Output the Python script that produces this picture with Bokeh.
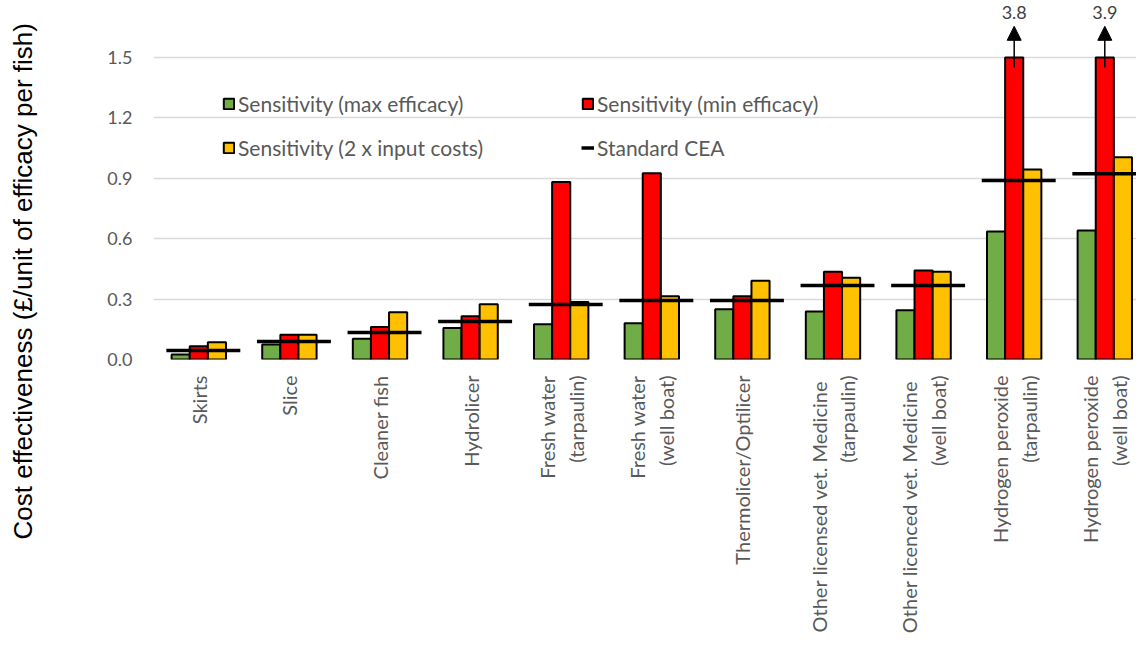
import numpy as np
from bokeh.plotting import figure
from bokeh.models import (Range1d, FixedTicker, NumeralTickFormatter, Legend, LegendItem,
                          Arrow, NormalHead, Title)
from bokeh.core.properties import value
from bokeh.embed import file_html
from bokeh.resources import INLINE

categories = [
    "Skirts", "Slice", "Cleaner fish", "Hydrolicer",
    "Fresh water\n(tarpaulin)", "Fresh water\n(well boat)",
    "Thermolicer/Optilicer",
    "Other licensed vet.  Medicine\n(tarpaulin)",
    "Other licenced vet.  Medicine\n(well boat)",
    "Hydrogen peroxide\n(tarpaulin)", "Hydrogen peroxide\n(well boat)",
]
max_efficacy = [0.025, 0.075, 0.103, 0.156, 0.175, 0.180, 0.250, 0.238, 0.245, 0.636, 0.641]
min_efficacy = [0.066, 0.123, 0.162, 0.215, 0.881, 0.925, 0.314, 0.436, 0.442, 3.8, 3.9]
double_costs = [0.086, 0.123, 0.235, 0.275, 0.285, 0.314, 0.391, 0.406, 0.436, 0.944, 1.005]
standard_cea = [0.045, 0.089, 0.134, 0.189, 0.273, 0.293, 0.293, 0.368, 0.368, 0.889, 0.922]
y_ticks = [0.0, 0.3, 0.6, 0.9, 1.2, 1.5]
axis_max = 1.5
y_title = "Cost effectiveness (£/unit of efficacy per fish)"

GREEN, RED, YELLOW = "#70AD47", "#FF0000", "#FFC000"
GREY_TXT = "#595959"
FONT = "Lato"

W, H = 1136, 649
Y_TOP = 1.7831

xc = np.arange(len(categories)) + 0.5

p = figure(width=W, height=H, output_backend="svg", toolbar_location=None,
           x_range=Range1d(0, 10.85), y_range=Range1d(0, Y_TOP),
           min_border_left=153, min_border_right=0, min_border_top=0,
           min_border_bottom=H - 359)
p.outline_line_color = None

bw = 0.2
g = p.vbar(x=xc - bw, top=max_efficacy, bottom=0, width=bw, fill_color=GREEN,
           line_color="black", line_width=2)
r = p.vbar(x=xc, top=np.minimum(min_efficacy, axis_max), bottom=0, width=bw, fill_color=RED,
           line_color="black", line_width=2)
yb = p.vbar(x=xc + bw, top=double_costs, bottom=0, width=bw, fill_color=YELLOW,
            line_color="black", line_width=2)
c = p.segment(x0=xc - 0.358, x1=xc + 0.458, y0=standard_cea, y1=standard_cea,
              line_color="black", line_width=3.5)

# arrows for bars that run off the axis
over = [i for i, v in enumerate(min_efficacy) if v > axis_max]
for i in over:
    p.add_layout(Arrow(end=NormalHead(size=14, fill_color="black", line_color="black"),
                       x_start=xc[i], y_start=axis_max - 0.05, x_end=xc[i], y_end=axis_max + 0.155,
                       line_width=1.5, line_color="black"))
p.text(x=[xc[i] for i in over], y=[Y_TOP - 0.025 for i in over],
       text=[f"{min_efficacy[i]:.1f}" for i in over], text_align="center",
       text_baseline="top", text_font=value(FONT), text_font_size="18px",
       text_color="#404040")

# axes
p.xaxis.ticker = FixedTicker(ticks=list(xc))
p.xaxis.major_label_overrides = {float(v): lab for v, lab in zip(xc, categories)}
p.xaxis.major_label_orientation = np.pi / 2
p.xaxis.major_label_text_font = FONT
p.xaxis.major_label_text_font_size = "20px"
p.xaxis.major_label_text_color = GREY_TXT
p.xaxis.major_label_standoff = 16
p.xaxis.major_tick_out = 0
p.xaxis.major_tick_in = 0
p.xaxis.axis_line_color = None
p.xaxis.major_tick_line_color = None
p.xaxis.minor_tick_line_color = None

p.yaxis.ticker = FixedTicker(ticks=y_ticks)
p.yaxis.formatter = NumeralTickFormatter(format="0.0")
p.yaxis.major_label_text_font = FONT
p.yaxis.major_label_text_font_size = "18px"
p.yaxis.major_label_text_color = GREY_TXT
p.yaxis.major_label_standoff = 21
p.yaxis.major_tick_out = 0
p.yaxis.major_tick_in = 0
p.yaxis.axis_line_color = None
p.yaxis.major_tick_line_color = None
p.yaxis.minor_tick_line_color = None
# blank axis label used only as a spacer, pushing the title further left
p.yaxis.axis_label = " "
p.yaxis.axis_label_standoff = 50
p.yaxis.axis_label_text_font_size = "8px"

p.xgrid.grid_line_color = None
p.ygrid.ticker = FixedTicker(ticks=y_ticks)
p.ygrid.grid_line_color = "#D9D9D9"
p.ygrid.grid_line_width = 1.5

# rotated y-axis title, starting below the frame (as in the reference)
p.add_layout(Title(text=y_title, align="left", offset=-180,
                   text_font="Liberation Sans", text_font_size="26px",
                   text_font_style="normal", text_color="black"), "left")

legend = Legend(items=[
    LegendItem(label="Sensitivity (max efficacy)", renderers=[g]),
    LegendItem(label="Sensitivity (min efficacy)", renderers=[r]),
    LegendItem(label="Sensitivity (2 x input costs)", renderers=[yb]),
    LegendItem(label="Standard CEA", renderers=[c]),
], orientation="horizontal", ncols=2, location=(69, 197),
    glyph_width=13, glyph_height=13, label_standoff=3, label_width=329, label_height=30,
    spacing=14, padding=0, margin=0, border_line_color=None, background_fill_alpha=0,
    label_text_font=FONT, label_text_font_size="21px", label_text_color=GREY_TXT)
p.add_layout(legend)

open("out.html", "w").write(file_html(p, INLINE))
